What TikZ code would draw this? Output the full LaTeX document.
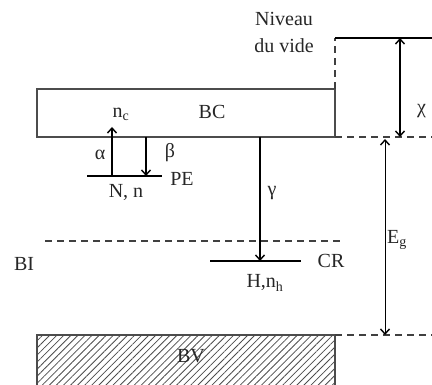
\documentclass[tikz,border=0pt]{standalone}
\usepackage{fontspec}
\setmainfont{Liberation Serif}
\usetikzlibrary{arrows.meta,patterns.meta}
\begin{document}
\begin{tikzpicture}[x=1pt,y=-1pt,font=\fontsize{20}{22}\selectfont,
  lbl/.style={inner sep=0pt, text=black!85},
  boxline/.style={line width=1.6pt, draw=black!70},
  lvl/.style={line width=2.4pt},
  dsh/.style={dash pattern=on 7pt off 5pt, line width=1.3pt, draw=black!75},
  barb/.style={-{Straight Barb[length=5pt,width=9pt,line width=1.4pt]}},
  barbs/.style={{Straight Barb[length=5pt,width=9pt,line width=1.4pt]}-{Straight Barb[length=5pt,width=9pt,line width=1.4pt]}}]
\useasboundingbox (0,0) rectangle (432,385);
% conduction band
\draw[boxline] (37,89) rectangle (335,137);
\coordinate (bcNE) at (335,89);
\coordinate (bcSE) at (335,137);
\node[lbl] (bc) at (212,112) {BC};
% vacuum level
\coordinate (vac) at (335,38);
\coordinate (vacR) at (432,38);
\draw[dsh] (bcNE) -- (vac);
\draw[line width=1.3pt] (vac) -- (vacR);
\coordinate (cbR) at (432,137);
\draw[dsh] (bcSE) -- (cbR);
\node[lbl,align=center] (niv) at (284,19) {Niveau};
\node[lbl] (duv) at (284,46) {du vide};
% chi arrow
\coordinate (chiT) at (400,38);
\coordinate (chiB) at (400,137);
\draw[barbs, line width=2pt] (chiT) -- (chiB);
\node[lbl, anchor=west] (chi) at (417,111) {χ};
% valence band
\fill[pattern={Lines[angle=45,distance=5pt,line width=0.8pt]}, pattern color=black!70] (37,335) rectangle (335,390);
\draw[boxline] (37,390) -- (37,335) -- (335,335) -- (335,390);
\node[lbl] (bv) at (191,356) {BV};
\coordinate (bvNE) at (335,335);
\coordinate (bvR) at (432,335);
\draw[dsh] (bvNE) -- (bvR);
% Eg arrow
\coordinate (egT) at (385,139);
\coordinate (egB) at (385,335);
\draw[barbs, line width=1pt] (egT) -- (egB);
\node[lbl] (eg) at (397,240) {E\textsubscript{g}};
% BI
\coordinate (biL) at (45,241);
\coordinate (biR) at (342,241);
\draw[dsh] (biL) -- (biR);
\node[lbl] (bi) at (24,264) {BI};
% PE level
\coordinate (peL) at (87,176);
\coordinate (peR) at (162,176);
\draw[lvl] (peL) -- (peR);
\node[lbl] (pe) at (182,179) {PE};
\node[lbl] (nn) at (126,192) {N, n};
% alpha
\coordinate (aB) at (112,176);
\coordinate (aT) at (112,127);
\draw[barb, line width=2.2pt] (aB) -- (aT);
\node[lbl] (alpha) at (100,155) {α};
\node[lbl] (nc) at (121,114) {n\textsubscript{c}};
% beta
\coordinate (bT) at (146,137);
\coordinate (bB) at (146,176);
\draw[barb, line width=1.5pt] (bT) -- (bB);
\node[lbl] (beta) at (170,153) {β};
% gamma
\coordinate (gT) at (260,137);
\coordinate (gB) at (260,261);
\draw[barb, line width=2pt] (gT) -- (gB);
\node[lbl] (gamma) at (272,193) {γ};
% CR level
\coordinate (crL) at (210,261);
\coordinate (crR) at (301,261);
\draw[lvl, line width=2pt] (crL) -- (crR);
\node[lbl] (cr) at (331,261) {CR};
\node[lbl] (hn) at (265,283) {H,n\textsubscript{h}};
\end{tikzpicture}
\end{document}
